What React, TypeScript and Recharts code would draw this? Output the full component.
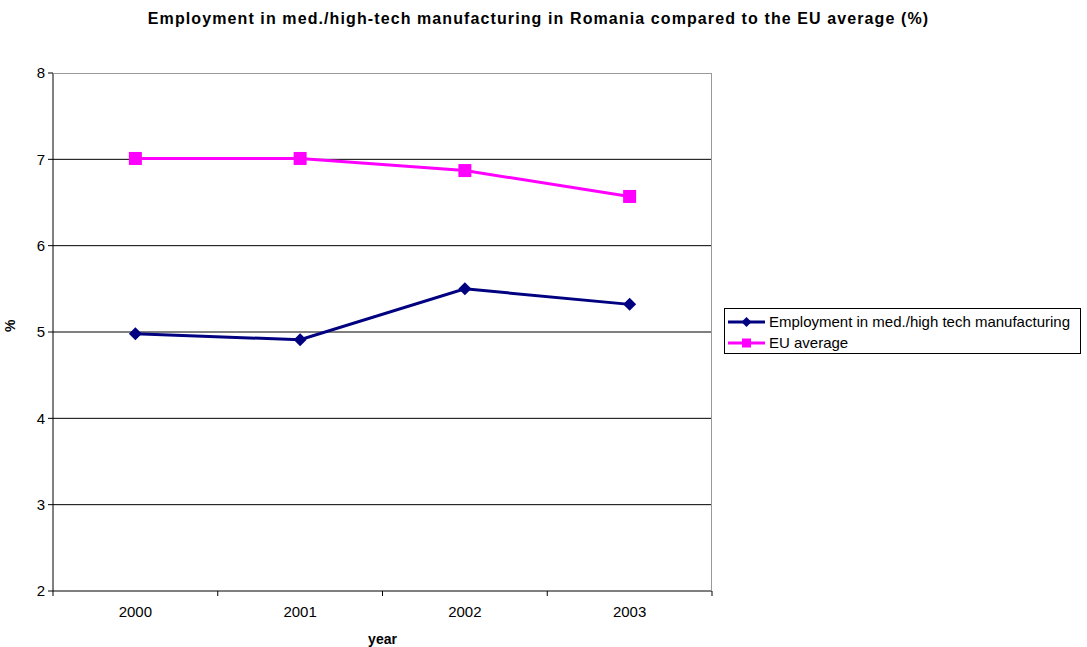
import React from 'react';
import { LineChart, Line, XAxis, YAxis, CartesianGrid } from 'recharts';

const years = ['2000', '2001', '2002', '2003'];
const romania = [4.98, 4.91, 5.5, 5.32];
const euAverage = [7.01, 7.01, 6.87, 6.57];
const yTicks = [2, 3, 4, 5, 6, 7, 8];

const data = years.map((year, i) => ({ year, romania: romania[i], eu: euAverage[i] }));

const W = 1087;
const H = 647;
const M = { top: 73, right: 375, bottom: 0, left: 0 };
const Y_W = 53;
const X_H = 56;
const plotW = W - M.left - Y_W - M.right;
const band = plotW / years.length;
const FONT = 'Liberation Sans, Arial, sans-serif';

const NAVY = '#000080';
const PINK = '#FF00FF';

const Diamond = ({ cx, cy, fill, half = 6.5 }: any) =>
  cx == null ? null : <path d={`M${cx},${cy - half}L${cx + half},${cy}L${cx},${cy + half}L${cx - half},${cy}Z`} fill={fill} />;

const Square = ({ cx, cy, fill, side = 13 }: any) =>
  cx == null ? null : <rect x={cx - side / 2} y={cy - side / 2} width={side} height={side} fill={fill} />;

const XTick = ({ x, y, payload, index }: any) => (
  <g>
    <line x1={x - band / 2} x2={x - band / 2} y1={y} y2={y + 5} stroke="#000" />
    {index === years.length - 1 && <line x1={x + band / 2} x2={x + band / 2} y1={y} y2={y + 5} stroke="#000" />}
    <text x={x} y={y + 26} textAnchor="middle" fontSize={15} fontFamily={FONT} fill="#000">{payload.value}</text>
  </g>
);

const legendItems = [
  { label: 'Employment in med./high tech manufacturing', color: NAVY, marker: 'diamond' },
  { label: 'EU average', color: PINK, marker: 'square' },
];

const LegendBox = () => (
  <div style={{ position: 'absolute', left: 724, top: 308, border: '1px solid #000', width: 357, height: 46, boxSizing: 'border-box', padding: '2px 0 0 2px', fontFamily: FONT, fontSize: 15, background: '#fff' }}>
    {legendItems.map(it => (
      <div key={it.label} style={{ display: 'flex', alignItems: 'center', height: 21 }}>
        <svg width={39} height={14} style={{ marginRight: 3 }}>
          <line x1={1} x2={38} y1={7} y2={7} stroke={it.color} strokeWidth={3} />
          {it.marker === 'diamond' ? <Diamond cx={19.5} cy={7} half={5} fill={it.color} /> : <Square cx={19.5} cy={7} side={9} fill={it.color} />}
        </svg>
        <span>{it.label}</span>
      </div>
    ))}
  </div>
);

export default function App() {
  return (
    <div style={{ position: 'absolute', left: 0, top: 0, width: W, height: H, background: '#fff' }}>
      <div style={{ position: 'absolute', left: 0, top: 10, width: 1077, textAlign: 'center', fontFamily: FONT, fontWeight: 'bold', fontSize: 16, letterSpacing: 1.1 }}>
        Employment in med./high-tech manufacturing in Romania compared to the EU average (%)
      </div>
      <LineChart width={W} height={H} data={data} margin={M}>
        <CartesianGrid vertical={false} stroke="#000" horizontalValues={[3, 4, 5, 6, 7]} />
        <XAxis dataKey="year" height={X_H} tickSize={0} tickMargin={0} tick={<XTick />} axisLine={{ stroke: '#000' }} interval={0}
          padding={{ left: band / 2, right: band / 2 }}
          label={{ value: 'year', position: 'insideBottom', offset: 3, style: { fontFamily: FONT, fontWeight: 'bold', fontSize: 14, fill: '#000' } }} />
        <YAxis width={Y_W} domain={[2, 8]} ticks={yTicks} tickSize={5} tickMargin={3} axisLine={{ stroke: '#000' }} tickLine={{ stroke: '#000' }}
          tick={{ fontFamily: FONT, fontSize: 15, fill: '#000' }}
          label={{ value: '%', angle: -90, position: 'insideLeft', offset: 10, style: { fontFamily: FONT, fontWeight: 'bold', fontSize: 14, fill: '#000' } }} />
        <Line dataKey="romania" stroke={NAVY} strokeWidth={3} dot={<Diamond fill={NAVY} />} activeDot={false} isAnimationActive={false} />
        <Line dataKey="eu" stroke={PINK} strokeWidth={3} dot={<Square fill={PINK} />} activeDot={false} isAnimationActive={false} />
      </LineChart>
      <div style={{ position: 'absolute', left: Y_W, top: M.top, width: plotW, height: H - M.top - X_H, borderTop: '1px solid #999', borderRight: '1px solid #999', boxSizing: 'border-box', pointerEvents: 'none' }} />
      <LegendBox />
    </div>
  );
}
